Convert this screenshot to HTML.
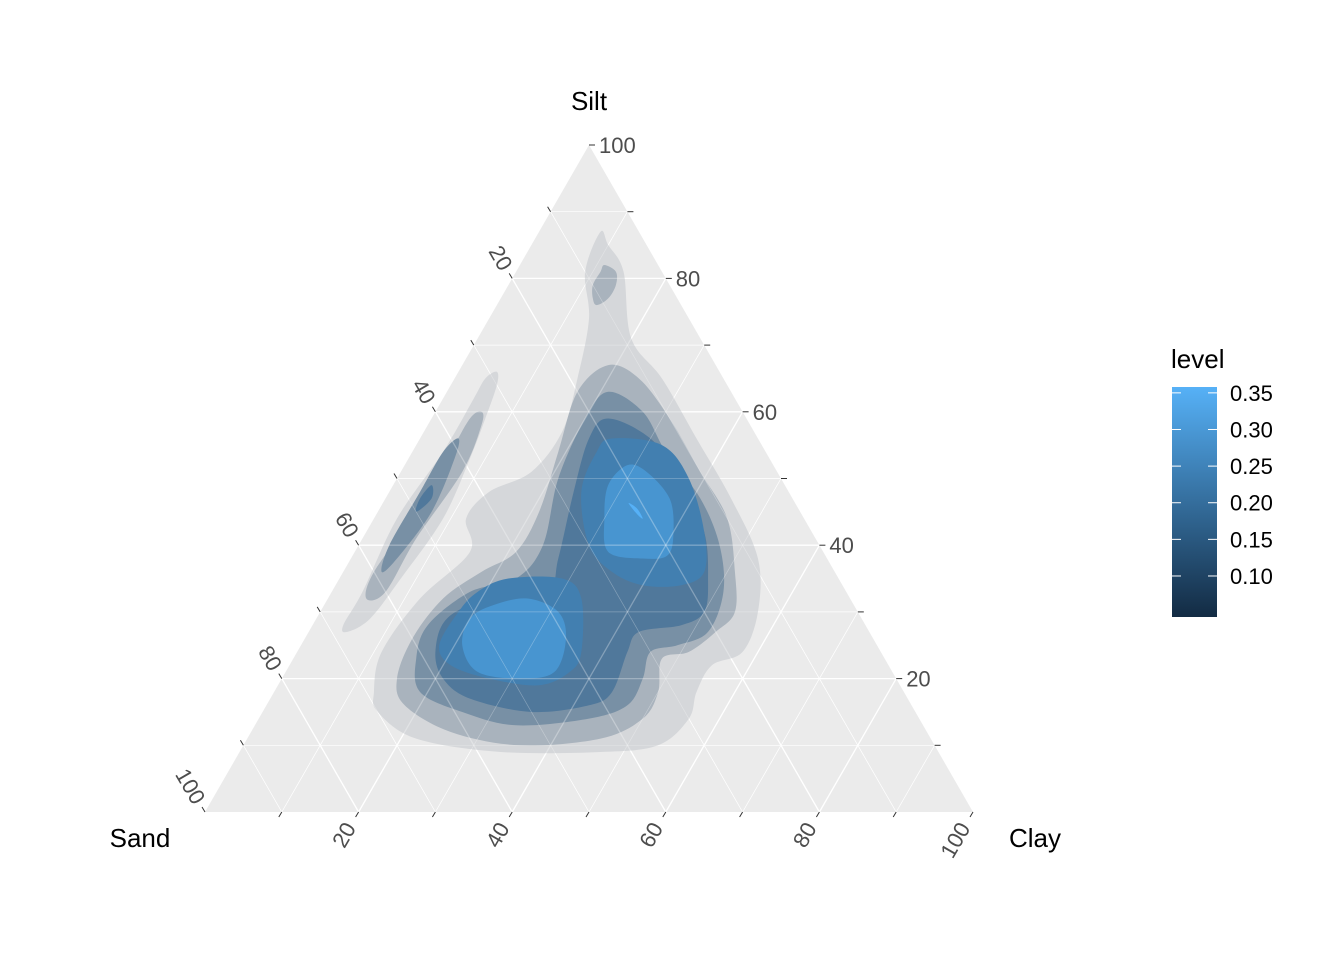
<!DOCTYPE html>
<html><head><meta charset="utf-8"><style>
body{margin:0;background:#fff}
svg text{font-family:"Liberation Sans",Arial,sans-serif}
</style></head><body>
<svg id="c" width="1344" height="960" viewBox="0 0 1344 960">
<defs><linearGradient id="lg" x1="0" y1="1" x2="0" y2="0">
<stop offset="0" stop-color="#132B43"/><stop offset="1" stop-color="#56B1F7"/></linearGradient></defs>
<g id="plot"></g>
<text x="589" y="110" font-size="26" text-anchor="middle">Silt</text>
<text x="140" y="847" font-size="26" text-anchor="middle">Sand</text>
<text x="1035" y="847" font-size="26" text-anchor="middle">Clay</text>
<g>
<text x="1171" y="368" font-size="26">level</text>
<rect x="1172" y="387" width="45" height="230" fill="url(#lg)"/>
<g id="leg"></g>
</g>
</svg>
<script>
const ticks=[20,40,60,80,100];
const legendLevels=[0.10,0.15,0.20,0.25,0.30,0.35];
const bandColors=["#D5D7DA","#A9B3BD","#7890A5","#50789B","#427FB0","#4895D0","#56B1F7"];
// contours: [clay, silt] compositions, per band
const band1=[[[8,87],[10,85],[14,81],[20,71],[27,65],[36,56],[45,47],[53,38],[57,30],[58,24],[55,22],[55,18],[56,14],[54,10],[47,9],[34,9],[22,11],[15,15],[13,18],[11,24],[12,32],[15,39],[12,44],[13,48],[17,51],[18,57],[16,65],[13,74],[9,81]],
 [[5,66],[6,64],[7,59],[8,53],[9,44],[8,35],[7,29],[5,27],[4,28],[4,33],[3,44],[4,54],[4,62],[4,65]]];
const band2=[[[19,67],[24,65],[31,59],[39,51],[46,44],[51,36],[54,30],[53,27],[51,24],[48,23],[50,18],[50,14],[46,11],[36,10],[26,12],[18,16],[15,20],[14,26],[15,32],[18,36],[21,39],[21,45],[19,54],[17,63]],
 [[6,60],[7,58],[8,51],[7,41],[7,33],[5,32],[4,36],[5,45],[5,54],[5,59]],
 [[11,82],[13,81],[14,79],[14,77],[13,76],[12,77],[11,79],[11,81]]];
const band3=[[[21,63],[27,60],[33,54],[41,47],[47,40],[51,33],[52,27],[49,25],[46,24],[47,20],[47,16],[43,14],[34,13],[26,15],[19,18],[16,23],[15,28],[18,33],[23,35],[24,40],[21,50],[20,59]],
 [[5,56],[6,53],[7,45],[6,38],[5,36],[4,40],[4,48],[4,54]]];
const band4=[[[23,59],[30,56],[37,50],[44,42],[48,35],[50,30],[48,28],[43,27],[43,24],[44,18],[42,16],[35,15],[26,17],[21,20],[18,24],[17,29],[21,32],[28,33],[27,38],[24,48],[22,56]],
 [[5,49],[6,47],[5,45],[4.5,47]]];
const band5=[[[25,56],[32,55],[38,50],[44,42],[47,36],[45,34],[40,34],[35,36],[30,40],[25,48],[24,54]],
 [[22,35],[29,35],[33,32],[37,24],[37,21],[34,19],[27,20],[21,22],[18,25],[18,30],[19,33]]];
const band6=[[[29,52],[32,51],[37,47],[40,42],[41,38.5],[38,38],[33,39],[30,44],[28,49]],
 [[22,31],[26,32],[31,30],[34,26],[35,21],[31,20],[25,21],[21,25],[20,29]]];
const band7=[[[32,46.3],[33.5,45.5],[35,44],[34,44.6]]];
const bands=[band1,band2,band3,band4,band5,band6,band7];

const L={x:205,y:812},R={x:973,y:812},T={x:589,y:145};
function P(clay,silt){return [L.x+(R.x-L.x)*clay/100+(T.x-L.x)*silt/100, L.y+(T.y-L.y)*silt/100];}
const NS="http://www.w3.org/2000/svg";
const plot=document.getElementById('plot');
function mk(t,a,parent){const e=document.createElementNS(NS,t);for(const k in a)e.setAttribute(k,a[k]);(parent||plot).appendChild(e);return e;}
function smooth(pts){const p=pts.map(q=>P(q[0],q[1]));const n=p.length;let d=`M${p[0][0]},${p[0][1]}`;
 for(let i=0;i<n;i++){const p0=p[(i-1+n)%n],p1=p[i],p2=p[(i+1)%n],p3=p[(i+2)%n];
 d+=`C${p1[0]+(p2[0]-p0[0])/6},${p1[1]+(p2[1]-p0[1])/6} ${p2[0]-(p3[0]-p1[0])/6},${p2[1]-(p3[1]-p1[1])/6} ${p2[0]},${p2[1]}`;}
 return d+'Z';}
const tri=mk('polygon',{points:[L,R,T].map(p=>p.x+','+p.y).join(' '),fill:'#EBEBEB'});


function grid(op,name){const g=mk('g',{stroke:'#fff','stroke-width':1.1,'stroke-opacity':op});
 
 
 for(let v=10;v<100;v+=10){
  let a=P(0,v),b=P(100-v,v);mk('line',{x1:a[0],y1:a[1],x2:b[0],y2:b[1],'stroke-width':v%20?0.7:1.3},g);
  a=P(v,0);b=P(v,100-v);mk('line',{x1:a[0],y1:a[1],x2:b[0],y2:b[1],'stroke-width':v%20?0.7:1.3},g);
  a=P(v,0);b=P(0,v);mk('line',{x1:a[0],y1:a[1],x2:b[0],y2:b[1],'stroke-width':v%20?0.7:1.3},g);}
}
grid(1,'gridlines');
bands.forEach((b,i)=>b.forEach((poly,j)=>{const e=mk('path',{d:smooth(poly),fill:bandColors[i]});
 
 }));
grid(0.3,'gridlines-overlay');
// ticks and labels
const ax=mk('g',{fill:'#4D4D4D','font-size':'22'});


for(let v=10;v<=100;v+=10){
 let s=P(100-v,v);
 mk('line',{x1:s[0],y1:s[1],x2:s[0]+6,y2:s[1],stroke:'#333','stroke-width':1},ax);
 let c=P(v,0); mk('line',{x1:c[0],y1:c[1],x2:c[0]-3,y2:c[1]+5,stroke:'#333','stroke-width':1},ax);
 let d=P(0,100-v); mk('line',{x1:d[0],y1:d[1],x2:d[0]-3,y2:d[1]-5,stroke:'#333','stroke-width':1},ax);
}
ticks.forEach(v=>{
 let s=P(100-v,v);const t1=mk('text',{x:s[0]+10,y:s[1]+8},ax);t1.textContent=v;
 
 
 let c=P(v,0);const t2=mk('text',{x:c[0]-2,y:c[1]+16,'text-anchor':'end',transform:`rotate(-60 ${c[0]-2} ${c[1]+16})`},ax);t2.textContent=v;
 
 
 let d=P(0,100-v);const t3=mk('text',{x:d[0]-12,y:d[1]-6,'text-anchor':'end',transform:`rotate(60 ${d[0]-12} ${d[1]-6})`},ax);t3.textContent=v;
 
 
});
// legend
const leg=document.getElementById('leg');
const ly=v=>617-(v-0.044)/(0.358-0.044)*230;
legendLevels.forEach(v=>{const y=ly(v);
 mk('line',{x1:1172,y1:y,x2:1181,y2:y,stroke:'#fff','stroke-width':1},leg);
 mk('line',{x1:1208,y1:y,x2:1217,y2:y,stroke:'#fff','stroke-width':1},leg);
 const t=mk('text',{x:1230,y:y+8,'font-size':'22',fill:'#000'},leg);t.textContent=v.toFixed(2);
 
 });
</script>
</body></html>
